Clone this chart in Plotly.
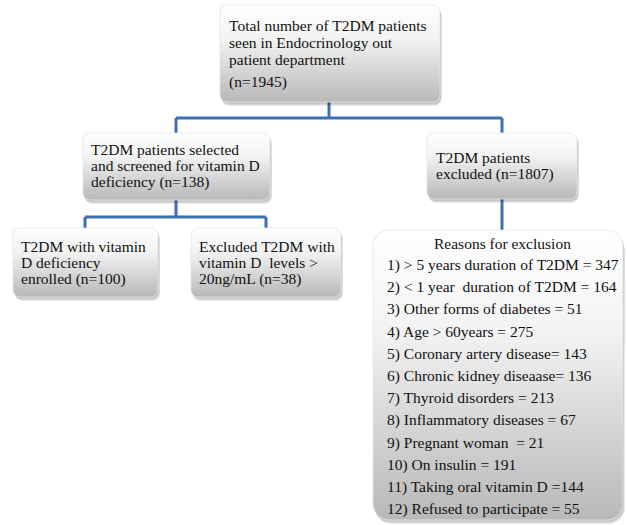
import numpy as np
import plotly.graph_objects as go

W, H = 627, 525

# ---- data (flowchart contents) ----
total_n = 1945
selected_n = 138
excluded_n = 1807
enrolled_n = 100
excluded_vitd_n = 38

reason_labels = [
    "1) > 5 years duration of T2DM = ",
    "2) < 1 year  duration of T2DM = ",
    "3) Other forms of diabetes = ",
    "4) Age > 60years = ",
    "5) Coronary artery disease= ",
    "6) Chronic kidney diseaase= ",
    "7) Thyroid disorders = ",
    "8) Inflammatory diseases = ",
    "9) Pregnant woman  = ",
    "10) On insulin = ",
    "11) Taking oral vitamin D =",
    "12) Refused to participate = ",
]
reason_counts = [347, 164, 51, 275, 143, 136, 213, 67, 21, 191, 144, 55]

FONT = "Liberation Serif, Times New Roman, serif"
BLUE = "#3f6fb3"


def rrect(x0, y0, x1, y1, r, n=10):
    xs, ys = [], []
    corners = [
        (x1 - r, y0 + r, -90, 0),
        (x1 - r, y1 - r, 0, 90),
        (x0 + r, y1 - r, 90, 180),
        (x0 + r, y0 + r, 180, 270),
    ]
    for cx, cy, a0, a1 in corners:
        for a in np.linspace(np.radians(a0), np.radians(a1), n):
            xs.append(cx + r * np.cos(a))
            ys.append(cy + r * np.sin(a))
    xs.append(xs[0])
    ys.append(ys[0])
    return xs, ys


fig = go.Figure()

boxes = [
    (220, 5, 440, 102, 7),
    (83, 133, 270, 200, 7),
    (13, 228, 158, 297, 7),
    (191, 228, 341, 297, 7),
    (427, 133, 577, 199, 7),
    (373, 230, 623, 520, 16),
]

for (x0, y0, x1, y1, r) in boxes:
    # soft shadow
    for off, op in [(4, 0.09), (2.5, 0.14)]:
        sx, sy = rrect(x0 + off * 0.5, y0 + off, x1 + off * 0.5, y1 + off, r)
        fig.add_trace(go.Scatter(x=sx, y=sy, mode="lines", fill="toself",
                                 line=dict(width=0), fillcolor=f"rgba(0,0,0,{op})",
                                 hoverinfo="skip", showlegend=False))
    bx, by = rrect(x0, y0, x1, y1, r)
    fig.add_trace(go.Scatter(
        x=bx, y=by, mode="lines", fill="toself",
        line=dict(width=0.8, color="#e4e4e4"),
        fillgradient=dict(type="vertical", start=y0, stop=y1,
                          colorscale=[[0, "#ffffff"], [0.35, "#f3f3f3"], [1, "#b8b8b8"]]),
        hoverinfo="skip", showlegend=False))

# connectors
segs = [
    (329, 102, 329, 118), (176, 118, 502, 118), (176, 118, 176, 133), (502, 118, 502, 133),
    (176, 200, 176, 217), (85, 217, 266, 217), (85, 217, 85, 228), (266, 217, 266, 228),
    (502, 199, 502, 230),
]
shapes = [dict(type="line", x0=a, y0=b, x1=c, y1=d, xref="x", yref="y",
               line=dict(color=BLUE, width=3), layer="below") for a, b, c, d in segs]

ann = []


def txt(x, y, s, size=15.5, anchor="left"):
    ann.append(dict(x=x, y=y, xref="x", yref="y", text=s, showarrow=False,
                    xanchor=anchor, yanchor="middle",
                    font=dict(family=FONT, size=size, color="#111111")))


top_lines = ["Total number of T2DM patients", "seen in Endocrinology out",
             "patient department"]
for i, s in enumerate(top_lines):
    txt(227, 25 + 17 * i, s)
txt(227, 82, f"(n={total_n})")

sel_lines = ["T2DM patients selected", "and screened for vitamin D",
             f"deficiency (n={selected_n})"]
for i, s in enumerate(sel_lines):
    txt(89, 149 + 16.5 * i, s)

enr_lines = ["T2DM with vitamin", "D deficiency", f"enrolled (n={enrolled_n})"]
for i, s in enumerate(enr_lines):
    txt(19, 246 + 16.3 * i, s)

ex_lines = ["Excluded T2DM with", "vitamin D  levels >", f"20ng/mL (n={excluded_vitd_n})"]
for i, s in enumerate(ex_lines):
    txt(197, 246 + 16.3 * i, s)

excl_lines = ["T2DM patients", f"excluded (n={excluded_n})"]
for i, s in enumerate(excl_lines):
    txt(434, 157 + 16.5 * i, s)

txt(502, 243, "Reasons for exclusion", size=15.5, anchor="center")
for i, (lab, c) in enumerate(zip(reason_labels, reason_counts)):
    txt(385, 265 + 22.2 * i, f"{lab}{c}", size=15.5)

fig.update_layout(
    width=W, height=H,
    margin=dict(l=0, r=0, t=0, b=0),
    paper_bgcolor="white", plot_bgcolor="white",
    xaxis=dict(range=[0, W], visible=False, fixedrange=True),
    yaxis=dict(range=[H, 0], visible=False, fixedrange=True),
    shapes=shapes, annotations=ann, showlegend=False,
)

fig.write_html("out.html", config={"displayModeBar": False},
               post_script="document.body.style.margin='0';document.body.style.overflow='hidden';")
